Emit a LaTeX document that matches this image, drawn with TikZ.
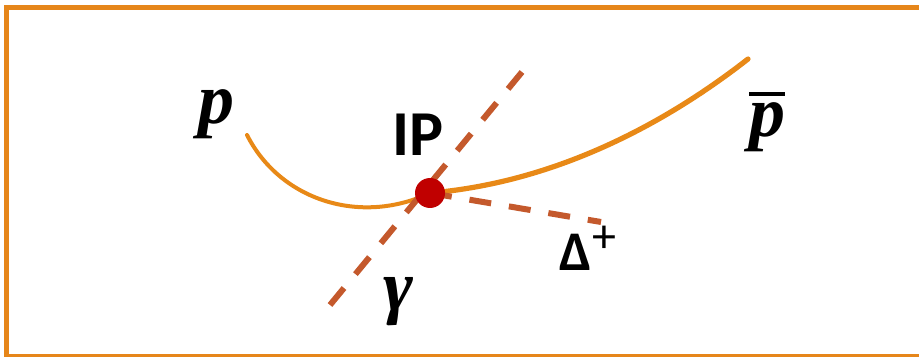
\RequirePackage{fix-cm}
\documentclass[tikz,border=0pt]{standalone}
\usepackage{fontspec}
\setmainfont{Carlito}
\newfontfamily\symfont{Liberation Serif}
\usetikzlibrary{positioning,backgrounds}

\definecolor{frameorange}{RGB}{230,134,26}
\definecolor{pathorange}{RGB}{232,137,23}
\definecolor{rust}{RGB}{196,89,44}
\definecolor{ipred}{RGB}{192,0,0}

% letter with a heavy bar over it
\newcommand{\barred}[1]{\setbox0\hbox{#1}\vbox{\hrule height 2pt width \wd0\kern3.5pt\box0}}

\begin{document}
\begin{tikzpicture}[
  x=0.5pt, y=-0.5pt,
  track/.style={draw=pathorange, line cap=round},
  ray/.style={draw=rust, line width=3pt, dash pattern=on 11pt off 9pt},
  lbl/.style={inner sep=0pt, anchor=center},
  big/.style={font=\fontsize{36}{40}\selectfont\symfont\bfseries\itshape}
]
\useasboundingbox (0,0) rectangle (919,357);
\clip (0,0) rectangle (919,357);

\coordinate (pstart) at (247,135);
\coordinate (pend) at (748,59);
\coordinate (gtop) at (522,72);
\coordinate (gbot) at (330,305);
\coordinate (dend) at (601,222);

% interaction point
\node[circle, fill=ipred, minimum size=15pt, inner sep=0pt] (ip) at (430,193) {};

\begin{scope}[on background layer]
\draw[frameorange, line width=2.5pt] (6,8) rectangle (940,356);
\draw[track, line width=2pt] (pstart) .. controls (280,200) and (360,226) .. (ip.center);
\draw[track, line width=2.6pt] (ip.center) .. controls (560,182) and (670,120) .. (pend);
\draw[ray] (gbot) -- (gtop);
\draw[ray] (ip.center) -- (dend);
\end{scope}

% labels
\node[lbl, big] (plabel) at (216,114) {p};
\node[lbl, font=\fontsize{32}{36}\selectfont\bfseries] (iplabel) at (418,135) {IP};
\node[lbl, big] (pbarlabel) at (767,122) {\barred{p}};
\node[lbl, big] (glabel) at (398,302) {γ};
\node[lbl, font=\fontsize{28}{32}\selectfont] (dlabel) at (588,248) {{\bfseries Δ}\raisebox{9pt}{\fontsize{24}{26}\selectfont +}};
\end{tikzpicture}
\end{document}
